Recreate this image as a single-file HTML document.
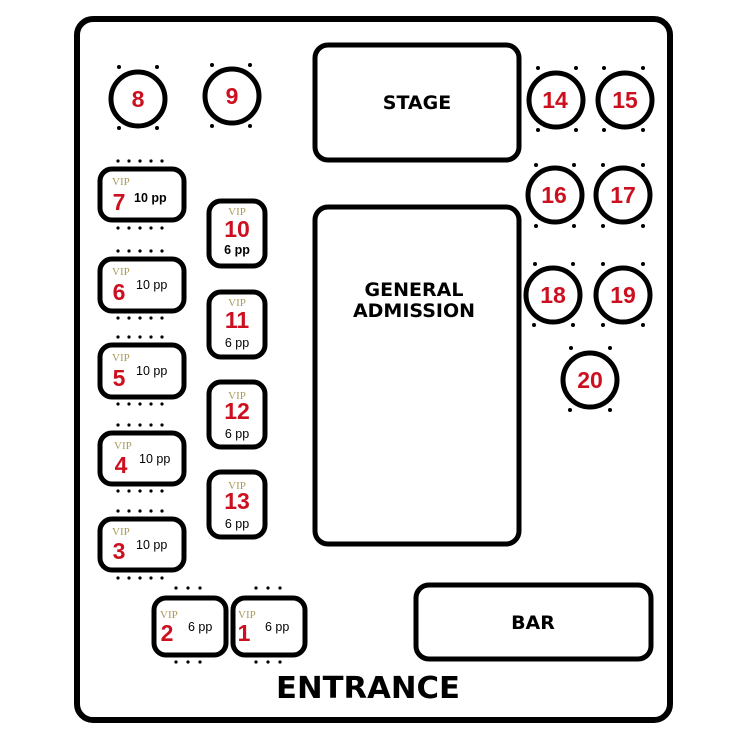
<!DOCTYPE html>
<html><head><meta charset="utf-8"><style>
html,body{margin:0;padding:0;background:#fff}
svg{display:block}
.b{fill:#fff;stroke:#000;stroke-width:5}
.n{font-family:"Liberation Sans",sans-serif;font-weight:bold;fill:#cc1020;font-size:23px;text-anchor:middle}
.v{font-family:"Liberation Serif",serif;fill:#a89a5a;font-size:11px}
.p{font-family:"Liberation Sans",sans-serif;fill:#000;font-size:12.5px}
.h{font-family:"DejaVu Sans","Liberation Sans",sans-serif;font-weight:bold;fill:#000;text-anchor:middle}
</style></head><body>
<svg width="740" height="740" viewBox="0 0 740 740" xmlns="http://www.w3.org/2000/svg">
<defs>
<g id="d5" fill="#000"><circle cx="118" cy="0" r="1.6"/><circle cx="129" cy="0" r="1.6"/><circle cx="140" cy="0" r="1.6"/><circle cx="151" cy="0" r="1.6"/><circle cx="162" cy="0" r="1.6"/></g>
</defs>
<rect x="77" y="19" width="593" height="701" rx="16" fill="#fff" stroke="#000" stroke-width="6"/>
<rect class="b" x="315" y="45" width="204" height="115" rx="13"/>
<text class="h" x="417" y="109" font-size="19">STAGE</text>
<rect class="b" x="315" y="207" width="204" height="337" rx="13"/>
<text class="h" x="414" y="296" font-size="19">GENERAL</text>
<text class="h" x="414" y="317" font-size="19">ADMISSION</text>
<rect class="b" x="416" y="585" width="235" height="74" rx="13"/>
<text class="h" x="533" y="629" font-size="19">BAR</text>
<text class="h" x="368" y="698" font-size="30" textLength="184" lengthAdjust="spacingAndGlyphs">ENTRANCE</text>

<g fill="#000">
<circle cx="119" cy="67" r="2"/><circle cx="157" cy="67" r="2"/><circle cx="119" cy="128" r="2"/><circle cx="157" cy="128" r="2"/>
<circle cx="212" cy="65" r="2"/><circle cx="250" cy="65" r="2"/><circle cx="212" cy="126" r="2"/><circle cx="250" cy="126" r="2"/>
<circle cx="538" cy="68" r="2"/><circle cx="576" cy="68" r="2"/><circle cx="538" cy="130" r="2"/><circle cx="576" cy="130" r="2"/>
<circle cx="604" cy="68" r="2"/><circle cx="643" cy="68" r="2"/><circle cx="604" cy="130" r="2"/><circle cx="643" cy="130" r="2"/>
<circle cx="536" cy="165" r="2"/><circle cx="574" cy="165" r="2"/><circle cx="536" cy="226" r="2"/><circle cx="574" cy="226" r="2"/>
<circle cx="603" cy="165" r="2"/><circle cx="643" cy="165" r="2"/><circle cx="603" cy="226" r="2"/><circle cx="643" cy="226" r="2"/>
<circle cx="535" cy="264" r="2"/><circle cx="573" cy="264" r="2"/><circle cx="534" cy="325" r="2"/><circle cx="573" cy="325" r="2"/>
<circle cx="603" cy="264" r="2"/><circle cx="643" cy="264" r="2"/><circle cx="603" cy="325" r="2"/><circle cx="643" cy="325" r="2"/>
<circle cx="571" cy="348" r="2"/><circle cx="610" cy="348" r="2"/><circle cx="570" cy="410" r="2"/><circle cx="610" cy="410" r="2"/>
</g>
<g>
<circle class="b" cx="138" cy="99" r="27"/><text class="n" x="138" y="107">8</text>
<circle class="b" cx="232" cy="96" r="27"/><text class="n" x="232" y="104">9</text>
<circle class="b" cx="556" cy="100" r="27"/><text class="n" x="555" y="108">14</text>
<circle class="b" cx="625" cy="100" r="27"/><text class="n" x="625" y="108">15</text>
<circle class="b" cx="555" cy="195" r="27"/><text class="n" x="554" y="203">16</text>
<circle class="b" cx="623" cy="195" r="27"/><text class="n" x="623" y="203">17</text>
<circle class="b" cx="553" cy="295" r="27"/><text class="n" x="553" y="303">18</text>
<circle class="b" cx="623" cy="295" r="27"/><text class="n" x="623" y="303">19</text>
<circle class="b" cx="590" cy="380" r="27"/><text class="n" x="590" y="388">20</text>
</g>

<use href="#d5" y="161"/><use href="#d5" y="228"/>
<use href="#d5" y="251"/><use href="#d5" y="318"/>
<use href="#d5" y="337"/><use href="#d5" y="404"/>
<use href="#d5" y="425"/><use href="#d5" y="491"/>
<use href="#d5" y="511"/><use href="#d5" y="578"/>

<rect class="b" x="100" y="169" width="84" height="51" rx="12"/>
<text class="v" x="112" y="185">VIP</text><text class="n" x="119" y="210">7</text><text class="p" x="134" y="202" font-weight="bold" font-size="13.5">10 pp</text>
<rect class="b" x="100" y="259" width="84" height="52" rx="12"/>
<text class="v" x="112" y="275">VIP</text><text class="n" x="119" y="300">6</text><text class="p" x="136" y="289">10 pp</text>
<rect class="b" x="100" y="345" width="84" height="52" rx="12"/>
<text class="v" x="112" y="361">VIP</text><text class="n" x="119" y="386">5</text><text class="p" x="136" y="375">10 pp</text>
<rect class="b" x="100" y="433" width="84" height="51" rx="12"/>
<text class="v" x="114" y="449">VIP</text><text class="n" x="121" y="473">4</text><text class="p" x="139" y="463">10 pp</text>
<rect class="b" x="100" y="519" width="84" height="51" rx="12"/>
<text class="v" x="112" y="535">VIP</text><text class="n" x="119" y="559">3</text><text class="p" x="136" y="549">10 pp</text>

<rect class="b" x="209" y="201" width="56" height="65" rx="12"/>
<text class="v" x="237" y="215" text-anchor="middle">VIP</text><text class="n" x="237" y="237">10</text><text class="p" x="237" y="254" text-anchor="middle" font-weight="bold">6 pp</text>
<rect class="b" x="209" y="292" width="56" height="65" rx="12"/>
<text class="v" x="237" y="306" text-anchor="middle">VIP</text><text class="n" x="237" y="328">11</text><text class="p" x="237" y="347" text-anchor="middle">6 pp</text>
<rect class="b" x="209" y="382" width="56" height="65" rx="12"/>
<text class="v" x="237" y="399" text-anchor="middle">VIP</text><text class="n" x="237" y="419">12</text><text class="p" x="237" y="438" text-anchor="middle">6 pp</text>
<rect class="b" x="209" y="472" width="56" height="65" rx="12"/>
<text class="v" x="237" y="489" text-anchor="middle">VIP</text><text class="n" x="237" y="509">13</text><text class="p" x="237" y="528" text-anchor="middle">6 pp</text>

<g fill="#000">
<circle cx="176" cy="588" r="1.6"/><circle cx="188" cy="588" r="1.6"/><circle cx="200" cy="588" r="1.6"/>
<circle cx="176" cy="662" r="1.6"/><circle cx="188" cy="662" r="1.6"/><circle cx="200" cy="662" r="1.6"/>
<circle cx="256" cy="588" r="1.6"/><circle cx="268" cy="588" r="1.6"/><circle cx="280" cy="588" r="1.6"/>
<circle cx="256" cy="662" r="1.6"/><circle cx="268" cy="662" r="1.6"/><circle cx="280" cy="662" r="1.6"/>
</g>
<rect class="b" x="154" y="598" width="72" height="57" rx="12"/>
<text class="v" x="160" y="618">VIP</text><text class="n" x="167" y="641">2</text><text class="p" x="188" y="631">6 pp</text>
<rect class="b" x="233" y="598" width="72" height="57" rx="12"/>
<text class="v" x="238" y="618">VIP</text><text class="n" x="244" y="641">1</text><text class="p" x="265" y="631">6 pp</text>
</svg>
</body></html>
